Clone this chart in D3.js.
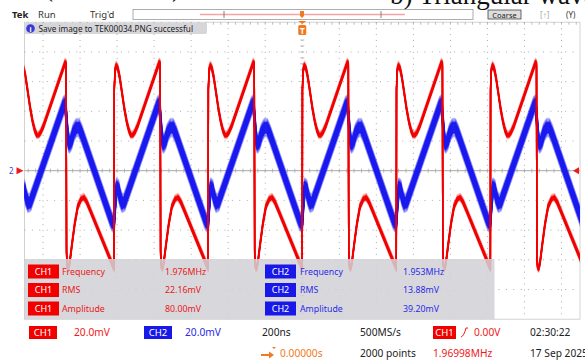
<!DOCTYPE html>
<html>
<head>
<meta charset="utf-8">
<script src="https://cdn.jsdelivr.net/npm/d3@7"></script>
<style>
  body { margin: 0; background: #fff; }
  svg { display: block; font-family: 'Noto Sans', 'Open Sans', sans-serif; }
</style>
</head>
<body>
<div id="chart"></div>
<script>
// one period of each trace, t in ns from the CH1 rising edge (trigger), v in mV
const period = 508;
const ch1T = [0, 1, 5, 12, 20, 30, 42, 55, 68, 80, 90, 100, 112, 126, 244, 249, 251, 254, 260, 268, 280, 295, 312, 330, 345, 360, 380, 508];
const ch1V = [-66, 55, 68, 71, 69, 63, 53, 42, 33, 27, 24, 24, 26, 30, 73, 72, -55, -64, -66, -62, -50, -36, -24, -19, -18, -21, -27, -66];
const ch2T = [0, 6, 14, 22, 32, 44, 56, 70, 236, 244, 250, 258, 266, 276, 290, 304, 318, 332, 492, 500, 508];
const ch2V = [-34, -22, -11, -12, -18, -22, -21, -16, 44, 45, 36, 22, 18, 20, 26, 29, 29, 25, -33, -35, -34];

const measLabels = ['Frequency', 'RMS', 'Amplitude'];
const ch1Meas = ['1.976MHz', '22.16mV', '80.00mV'];
const ch2Meas = ['1.953MHz', '13.88mV', '39.20mV'];

const timeDomain = [-1500, 1500];   // 200ns/div, 15 div
const voltDomain = [-100, 100];     // 20mV/div, 10 div
const timeTicks = d3.range(-1400, 1401, 200);
const voltTicks = d3.range(-80, 81, 20);

const W = 585, H = 362;
const svg = d3.select('#chart').append('svg').attr('width', W).attr('height', H);

const x = d3.scaleLinear().domain(timeDomain).range([24.5, 580]);
const y = d3.scaleLinear().domain(voltDomain).range([319.2, 22.2]);
const divX = x(200) - x(0), divY = y(0) - y(20);

// paper caption cut off at the top
const serif = "'Liberation Serif', 'DejaVu Serif', serif";
svg.append('text').attr('x', 44).attr('y', -4).attr('font-family', serif)
  .attr('font-size', 27).attr('fill', '#111').text('(');
svg.append('text').attr('x', 172).attr('y', -4).attr('font-family', serif)
  .attr('font-size', 27).attr('fill', '#111').text(')');
svg.append('text').attr('x', 390).attr('y', 4).attr('font-family', serif)
  .attr('font-size', 27).attr('fill', '#111').text('b) Triangular wave');

// status bar
svg.append('text').attr('x', 12).attr('y', 18).attr('font-size', 9.5).attr('font-weight', 'bold').attr('fill', '#222').text('Tek');
svg.append('text').attr('x', 38).attr('y', 18).attr('font-size', 9.5).attr('fill', '#333').text('Run');
svg.append('text').attr('x', 90).attr('y', 18).attr('font-size', 9.5).attr('fill', '#333').text("Trig'd");
svg.append('rect').attr('x', 133).attr('y', 9.5).attr('width', 340).attr('height', 10)
  .attr('fill', '#fff').attr('stroke', '#999').attr('stroke-width', 0.8);
svg.append('line').attr('x1', 200).attr('x2', 405).attr('y1', 14.5).attr('y2', 14.5)
  .attr('stroke', '#f5a5a5').attr('stroke-width', 1.5);
[224, 381].forEach(px => svg.append('line').attr('x1', px).attr('x2', px).attr('y1', 11).attr('y2', 18)
  .attr('stroke', '#666').attr('stroke-width', 0.8));
svg.append('path').attr('d', 'M300,11 h4 v5 l-2,2 l-2,-2 z').attr('fill', '#f07a22');
svg.append('rect').attr('x', 488).attr('y', 10).attr('width', 33).attr('height', 9)
  .attr('fill', '#ddd').attr('stroke', '#444').attr('stroke-width', 0.8);
svg.append('text').attr('x', 504.5).attr('y', 17.5).attr('text-anchor', 'middle').attr('font-size', 7.5).attr('fill', '#222').text('Coarse');
svg.append('text').attr('x', 540).attr('y', 18).attr('font-size', 8).attr('fill', '#aaa').text('[↑]');
svg.append('text').attr('x', 566).attr('y', 18).attr('font-size', 8).attr('fill', '#333').text('(Y)');

// graticule
const grid = svg.append('g');
grid.append('rect').attr('x', x.range()[0]).attr('y', y.range()[1])
  .attr('width', x.range()[1] - x.range()[0]).attr('height', y.range()[0] - y.range()[1])
  .attr('fill', '#fff').attr('stroke', '#c8c8c8').attr('stroke-width', 0.8);
grid.selectAll('.vg').data(timeTicks.filter(t => t !== 0)).enter().append('line')
  .attr('x1', d => x(d)).attr('x2', d => x(d)).attr('y1', y.range()[1]).attr('y2', y.range()[0])
  .attr('stroke', '#aaa').attr('stroke-width', 1).attr('stroke-dasharray', `1 ${divY / 5 - 1}`);
grid.selectAll('.hg').data(voltTicks.filter(v => v !== 0)).enter().append('line')
  .attr('x1', x.range()[0]).attr('x2', x.range()[1]).attr('y1', d => y(d)).attr('y2', d => y(d))
  .attr('stroke', '#aaa').attr('stroke-width', 1).attr('stroke-dasharray', `1 ${divX / 5 - 1}`);
grid.append('line').attr('x1', x.range()[0]).attr('x2', x.range()[1]).attr('y1', y(0)).attr('y2', y(0))
  .attr('stroke', '#a8a8a8').attr('stroke-width', 1);
grid.append('line').attr('x1', x(0)).attr('x2', x(0)).attr('y1', y.range()[1]).attr('y2', y.range()[0])
  .attr('stroke', '#aaa').attr('stroke-width', 1).attr('stroke-dasharray', `1 ${divY / 5 - 1}`);
// minor ticks on centre axes and top edge
const minorT = d3.range(-1480, 1500, 40);
grid.selectAll('.mt').data(minorT).enter().append('line')
  .attr('x1', d => x(d)).attr('x2', d => x(d)).attr('y1', y(0) - 2).attr('y2', y(0) + 2)
  .attr('stroke', '#aaa').attr('stroke-width', 0.8);
grid.selectAll('.mtt').data(minorT).enter().append('line')
  .attr('x1', d => x(d)).attr('x2', d => x(d)).attr('y1', y.range()[1]).attr('y2', y.range()[1] + 2.5)
  .attr('stroke', '#aaa').attr('stroke-width', 0.8);
grid.selectAll('.mv').data(d3.range(-96, 97, 4)).enter().append('line')
  .attr('x1', x(0) - 2).attr('x2', x(0) + 2).attr('y1', d => y(d)).attr('y2', d => y(d))
  .attr('stroke', '#aaa').attr('stroke-width', 0.8);

// traces
svg.append('clipPath').attr('id', 'clip').append('rect')
  .attr('x', x.range()[0]).attr('y', y.range()[1])
  .attr('width', x.range()[1] - x.range()[0]).attr('height', y.range()[0] - y.range()[1]);

function tile(T, V) {
  const pts = [];
  for (let k = -4; k <= 3; k++) {
    T.forEach((t, i) => pts.push([t + k * period, V[i]]));
  }
  return pts;
}
const line = d3.line().x(d => x(d[0])).y(d => y(d[1])).curve(d3.curveLinear);
const traces = svg.append('g').attr('clip-path', 'url(#clip)');
const ch1Path = line(tile(ch1T, ch1V)), ch2Path = line(tile(ch2T, ch2V));

// persistence: vertical spread of the acquired waveforms
function band(d, color, width, spread, core) {
  d3.range(-spread, spread + 0.01, 0.75).forEach(dy => {
    traces.append('path').attr('d', d).attr('transform', `translate(0,${dy})`)
      .attr('fill', 'none').attr('stroke', color).attr('stroke-width', width)
      .attr('stroke-linejoin', 'round')
      .attr('stroke-opacity', Math.abs(dy) <= core ? 0.9 : 0.22);
  });
}
band(ch2Path, '#1c1cf0', 1.8, 9, 5.5);
band(ch1Path, '#f20000', 1.4, 4, 2);

// info banner
svg.append('rect').attr('x', 24).attr('y', 23).attr('width', 183).attr('height', 11).attr('rx', 2)
  .attr('fill', '#d6d6da');
svg.append('circle').attr('cx', 30.5).attr('cy', 28.5).attr('r', 4.3).attr('fill', '#3838d8');
svg.append('text').attr('x', 30.5).attr('y', 31.5).attr('text-anchor', 'middle').attr('font-size', 7)
  .attr('font-weight', 'bold').attr('fill', '#fff').text('i');
svg.append('text').attr('x', 38.5).attr('y', 31.5).attr('font-size', 8.2).attr('fill', '#222')
  .text('Save image to TEK00034.PNG successful');

// trigger position marker
svg.append('path').attr('d', `M${x(0) - 4},21 h8 l-4,3 z`).attr('fill', '#f07a22');
svg.append('rect').attr('x', x(0) - 4).attr('y', 25).attr('width', 8).attr('height', 10).attr('rx', 1.5).attr('fill', '#f07a22');
svg.append('text').attr('x', x(0)).attr('y', 33.5).attr('text-anchor', 'middle').attr('font-size', 8)
  .attr('font-weight', 'bold').attr('fill', '#fff').text('T');

// ground / trigger level markers
svg.append('text').attr('x', 9).attr('y', y(0) + 3).attr('font-size', 8).attr('fill', '#4040e0').text('2');
svg.append('path').attr('d', `M16.5,${y(0) - 3.5} l7,3.5 l-7,3.5 z`).attr('fill', '#f01818');
svg.append('path').attr('d', `M579,${y(0) - 3.5} l-6,3.5 l6,3.5 z`).attr('fill', '#f01818');

// measurement panel
const panelTop = 259;
svg.append('rect').attr('x', 24.5).attr('y', panelTop).attr('width', 470).attr('height', y.range()[0] - panelTop)
  .attr('fill', '#d2d2d6').attr('fill-opacity', 0.86);
const rowY = [271.5, 290, 308.5];
measLabels.forEach((lab, i) => {
  const ry = rowY[i];
  [[28, 'CH1', '#f20000', '#e81818', ch1Meas[i], 62, 165], [265, 'CH2', '#1818e8', '#2a2ae8', ch2Meas[i], 300, 403]]
    .forEach(([bx, ch, boxC, txtC, val, lx, vx]) => {
      svg.append('rect').attr('x', bx).attr('y', ry - 7).attr('width', 31).attr('height', 14).attr('fill', boxC);
      svg.append('text').attr('x', bx + 15.5).attr('y', ry + 3.2).attr('text-anchor', 'middle')
        .attr('font-size', 9).attr('fill', '#fff').text(ch);
      svg.append('text').attr('x', lx).attr('y', ry + 3.2).attr('font-size', 8.8).attr('fill', txtC).text(lab);
      svg.append('text').attr('x', vx).attr('y', ry + 3.2).attr('font-size', 8.8).attr('fill', txtC).text(val);
    });
});

// bottom readouts
function chBox(bx, by, w, label, col) {
  svg.append('rect').attr('x', bx).attr('y', by).attr('width', w).attr('height', 13).attr('fill', col);
  svg.append('text').attr('x', bx + w / 2).attr('y', by + 10).attr('text-anchor', 'middle')
    .attr('font-size', 9.5).attr('fill', '#fff').text(label);
}
function txt(tx, ty, s, col) {
  svg.append('text').attr('x', tx).attr('y', ty).attr('font-size', 10.2).attr('fill', col).text(s);
}
chBox(29, 326, 28, 'CH1', '#f20000');
txt(74, 336, '20.0mV', '#f01818');
chBox(144, 326, 28, 'CH2', '#1818e8');
txt(185, 336, '20.0mV', '#2a2ae8');
txt(262, 336, '200ns', '#222');
txt(360, 336, '500MS/s', '#222');
chBox(433, 326, 23, 'CH1', '#f20000');
svg.append('path').attr('d', 'M461,337 q3,-1 5,-9 h2').attr('fill', 'none').attr('stroke', '#f01818').attr('stroke-width', 1);
txt(474, 336, '0.00V', '#f01818');
txt(530, 336, '02:30:22', '#222');
svg.append('path').attr('d', 'M261,354 h8 v-2.5 l5,3.5 l-5,3.5 v-2.5 h-8 z').attr('fill', '#f07a22');
svg.append('path').attr('d', 'M272,347 h4 l-2,2 z').attr('fill', '#f07a22');
txt(280, 357, '0.00000s', '#f07a22');
txt(360, 357, '2000 points', '#222');
txt(433, 357, '1.96998MHz', '#f01818');
txt(530, 357, '17 Sep 2025', '#222');
</script>
</body>
</html>
